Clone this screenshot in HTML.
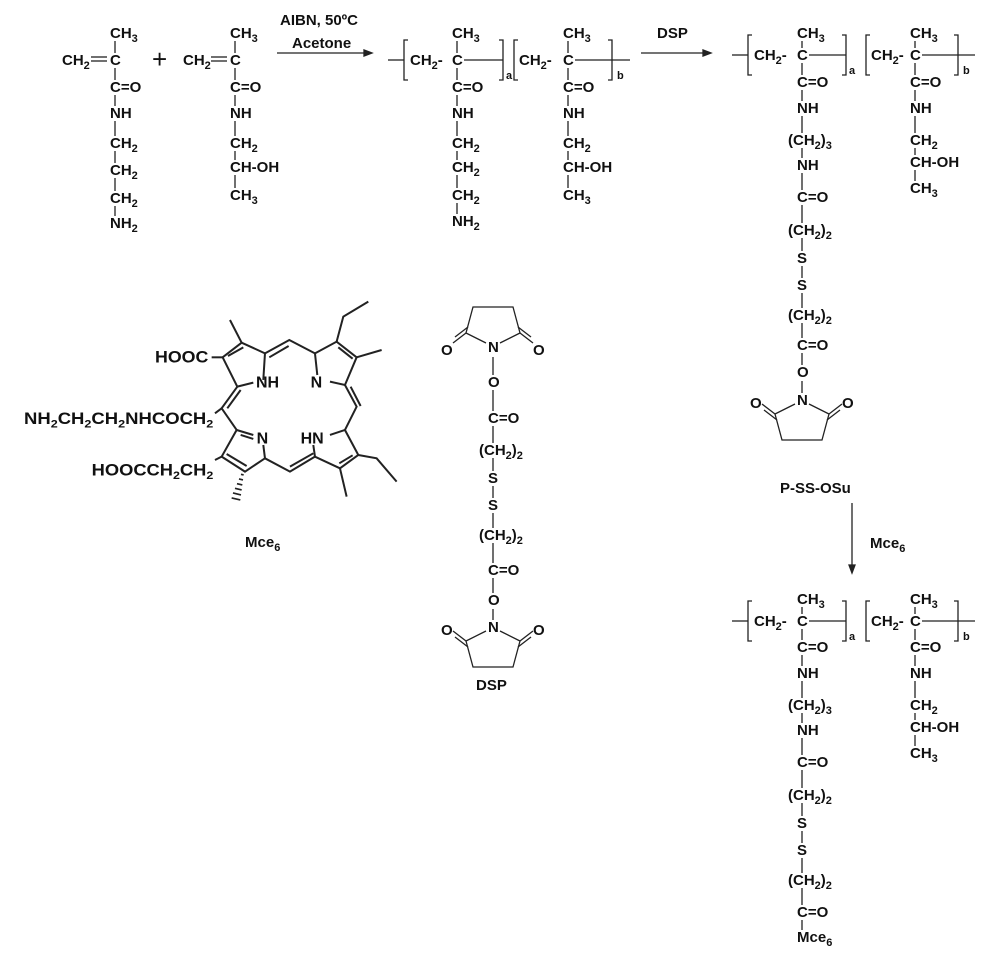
<!DOCTYPE html>
<html><head><meta charset="utf-8">
<style>
html,body{margin:0;padding:0;background:#fff;}
svg{display:block;}
text{font-family:"Liberation Sans",Arial,sans-serif;font-weight:bold;font-size:15px;fill:#111;}
.s{font-size:11px;}
line,polyline,polygon,path{stroke:#222;fill:none;stroke-width:1.3;}
</style></head>
<body>
<svg id="sv" width="1000" height="962" viewBox="0 0 1000 962" xmlns="http://www.w3.org/2000/svg">
<g id="g"></g>
<line x1="277" y1="53" x2="366" y2="53"/><polygon points="372,53 364,50 364,56" style="fill:#222"/>
<text x="280" y="25">AIBN, 50ºC</text><text x="292" y="48">Acetone</text>
<line x1="641" y1="53" x2="704" y2="53"/><polygon points="711,53 703,50 703,56" style="fill:#222"/>
<text x="657" y="38">DSP</text>
<line x1="852" y1="503" x2="852" y2="566"/><polygon points="852,573 849,565 855,565" style="fill:#222"/>
<text x="870" y="548">Mce<tspan class="s" dy="4">6</tspan></text>
<text x="152" y="68" style="font-size:26px;font-weight:normal">+</text>
<text x="780" y="493">P-SS-OSu</text>
<text x="476" y="690">DSP</text>
<text x="245" y="547">Mce<tspan class="s" dy="4">6</tspan></text>
<g transform="translate(0,270) scale(0.3333)">
<g style="stroke-width:6">
<polyline points="712,350 668,262 725,218 795,250 790,330" style="stroke-width:6"/>
<line x1="712" y1="350" x2="760" y2="338" style="stroke-width:6"/>
<line x1="684" y1="258" x2="730" y2="232" style="stroke-width:6"/>
<polyline points="795,250 868,210 945,250" style="stroke-width:6"/>
<line x1="808" y1="262" x2="866" y2="228" style="stroke-width:6"/>
<polyline points="945,250 1010,215 1070,262 1035,345 990,335" style="stroke-width:6"/>
<line x1="945" y1="250" x2="952" y2="315" style="stroke-width:6"/>
<line x1="1015" y1="232" x2="1058" y2="266" style="stroke-width:6"/>
<polyline points="1035,345 1070,410 1035,480" style="stroke-width:6"/>
<line x1="1052" y1="350" x2="1082" y2="408" style="stroke-width:6"/>
<polyline points="990,495 1035,480 1075,555 1020,595 945,560 940,525" style="stroke-width:6"/>
<line x1="1058" y1="556" x2="1018" y2="580" style="stroke-width:6"/>
<polyline points="945,560 870,605 795,565" style="stroke-width:6"/>
<line x1="870" y1="590" x2="940" y2="550" style="stroke-width:6"/>
<polyline points="790,525 795,565 735,605 665,560 710,480 760,495" style="stroke-width:6"/>
<line x1="740" y1="588" x2="680" y2="552" style="stroke-width:6"/>
<line x1="722" y1="495" x2="760" y2="507" style="stroke-width:6"/>
<polyline points="712,350 665,415 710,480" style="stroke-width:6"/>
<line x1="682" y1="415" x2="722" y2="360" style="stroke-width:6"/>
<line x1="725" y1="218" x2="690" y2="150" style="stroke-width:6"/>
<polyline points="1010,215 1030,140 1105,95" style="stroke-width:6"/>
<line x1="1070" y1="262" x2="1145" y2="240" style="stroke-width:6"/>
<polyline points="1075,555 1130,565 1190,635" style="stroke-width:6"/>
<line x1="1020" y1="595" x2="1040" y2="680" style="stroke-width:6"/>
<line x1="668" y1="262" x2="635" y2="262" style="stroke-width:6"/>
<line x1="665" y1="415" x2="645" y2="430" style="stroke-width:6"/>
<line x1="665" y1="560" x2="645" y2="570" style="stroke-width:6"/>
<path d="M731,615 l-8,-2 M729,630 l-12,-3 M727,645 l-16,-4 M725,660 l-20,-5 M723,675 l-24,-6 M721,690 l-26,-6" style="stroke-width:5"/>
</g>
<text x="465" y="277" style="font-size:50px" textLength="160" lengthAdjust="spacingAndGlyphs">HOOC</text>
<text x="72" y="462" style="font-size:50px" textLength="568" lengthAdjust="spacingAndGlyphs">NH<tspan style="font-size:34px" dy="10">2</tspan><tspan dy="-10">CH</tspan><tspan style="font-size:34px" dy="10">2</tspan><tspan dy="-10">CH</tspan><tspan style="font-size:34px" dy="10">2</tspan><tspan dy="-10">NHCOCH</tspan><tspan style="font-size:34px" dy="10">2</tspan></text>
<text x="275" y="617" style="font-size:50px" textLength="365" lengthAdjust="spacingAndGlyphs">HOOCCH<tspan style="font-size:34px" dy="10">2</tspan><tspan dy="-10">CH</tspan><tspan style="font-size:34px" dy="10">2</tspan></text>
<text x="768" y="352" style="font-size:48px">NH</text>
<text x="932" y="352" style="font-size:48px">N</text>
<text x="770" y="520" style="font-size:48px">N</text>
<text x="902" y="520" style="font-size:48px">HN</text>
</g>
</svg>
<script>
var g=document.getElementById('g');
var out='';
function T(x,y,h){out+='<text x="'+x+'" y="'+y+'">'+h+'</text>';}
function L(a,b,c,d){out+='<line x1="'+a+'" y1="'+b+'" x2="'+c+'" y2="'+d+'"/>';}
function s(n,rest){return '<tspan class="s" dy="4">'+n+'</tspan><tspan dy="-4">'+(rest||'')+'</tspan>';}
var CH2='CH'+s(2), CH3='CH'+s(3);
var P3='(CH'+s(2,')')+'<tspan class="s" dy="4">3</tspan>';
var P2='(CH'+s(2,')')+'<tspan class="s" dy="4">2</tspan>';
function col(x,rows){
  for(var i=0;i<rows.length;i++){
    var r=rows[i];T(x+(r[2]||0),r[0],r[1]);
    if(i>0){var p=rows[i-1][0];L(x+5,p+3,x+5,r[0]-12);}
  }
}
col(110,[[38,CH3],[65,'C'],[92,'C=O'],[118,'NH'],[148,CH2],[175,CH2],[203,CH2],[228,'NH'+s(2)]]);
T(62,65,'CH'+s(2));L(91,57,107,57);L(91,61,107,61);
col(230,[[38,CH3],[65,'C'],[92,'C=O'],[118,'NH'],[148,CH2],[172,'CH-OH'],[200,CH3]]);
T(183,65,'CH'+s(2));L(211,57,227,57);L(211,61,227,61);
function chain(y,x0,cA,bA,x1,cB,bB,xe){
  L(x0,y-5,x0+16,y-5);
  out+='<path d="M'+(x0+20)+','+(y-25)+' h-4 v40 h4"/>';
  T(x0+22,y,'CH'+s(2,'-'));T(cA,y,'C');L(cA+12,y-5,bA,y-5);
  out+='<path d="M'+(bA-4)+','+(y-25)+' h4 v40 h-4"/>';
  out+='<text x="'+(bA+3)+'" y="'+(y+14)+'" class="s">a</text>';
  out+='<path d="M'+(x1+4)+','+(y-25)+' h-4 v40 h4"/>';
  T(x1+5,y,'CH'+s(2,'-'));T(cB,y,'C');L(cB+12,y-5,bB,y-5);
  out+='<path d="M'+(bB-4)+','+(y-25)+' h4 v40 h-4"/>';
  out+='<text x="'+(bB+5)+'" y="'+(y+14)+'" class="s">b</text>';
  L(bB,y-5,xe,y-5);
}
chain(65,388,452,503,514,563,612,630);
col(452,[[38,CH3],[65,''],[92,'C=O'],[118,'NH'],[148,CH2],[172,CH2],[200,CH2],[226,'NH'+s(2)]]);
col(563,[[38,CH3],[65,''],[92,'C=O'],[118,'NH'],[148,CH2],[172,'CH-OH'],[200,CH3]]);
function ring(cx,y,up){
  var k=up?-1:1;
  T(cx-5,y,'N');T(cx-52,y+3,'O');T(cx+40,y+3,'O');
  var yy=y-5;
  out+='<path d="M'+(cx-7)+','+(yy+4*k)+' L'+(cx-27)+','+(yy+14*k)+' L'+(cx-20)+','+(yy+40*k)+' L'+(cx+20)+','+(yy+40*k)+' L'+(cx+27)+','+(yy+14*k)+' L'+(cx+7)+','+(yy+4*k)+'"/>';
  L(cx-27,yy+14*k,cx-40,yy+4*k);L(cx-25,yy+20*k,cx-38,yy+10*k);
  L(cx+27,yy+14*k,cx+40,yy+4*k);L(cx+25,yy+20*k,cx+38,yy+10*k);
}
function longside(x,ys,last){
  var rows=[[ys[0],CH3],[ys[1],''],[ys[2],'C=O'],[ys[3],'NH'],[ys[4],P3,-9],[ys[5],'NH'],[ys[6],'C=O'],[ys[7],P2,-9],[ys[8],'S'],[ys[9],'S'],[ys[10],P2,-9],[ys[11],'C=O']];
  rows=rows.concat(last);col(x,rows);
}
chain(60,732,797,846,866,910,958,975);
longside(797,[38,60,87,113,145,170,202,235,263,290,320,350],[[377,'O']]);
L(802,381,802,393);
ring(802,405,false);
col(910,[[38,CH3],[60,''],[87,'C=O'],[113,'NH'],[145,CH2],[167,'CH-OH'],[193,CH3]]);
chain(626,732,797,846,866,910,958,975);
longside(797,[604,626,652,678,710,735,767,800,828,855,885,917],[[942,'Mce'+s(6)]]);
col(910,[[604,CH3],[626,''],[652,'C=O'],[678,'NH'],[710,CH2],[732,'CH-OH'],[758,CH3]]);
ring(493,352,true);
col(488,[[387,'O'],[423,'C=O'],[455,P2,-9],[483,'S'],[510,'S'],[540,P2,-9],[575,'C=O'],[605,'O']]);
L(493,357,493,375);L(493,609,493,620);
ring(493,632,false);
g.innerHTML=out;
</script>
</body></html>
